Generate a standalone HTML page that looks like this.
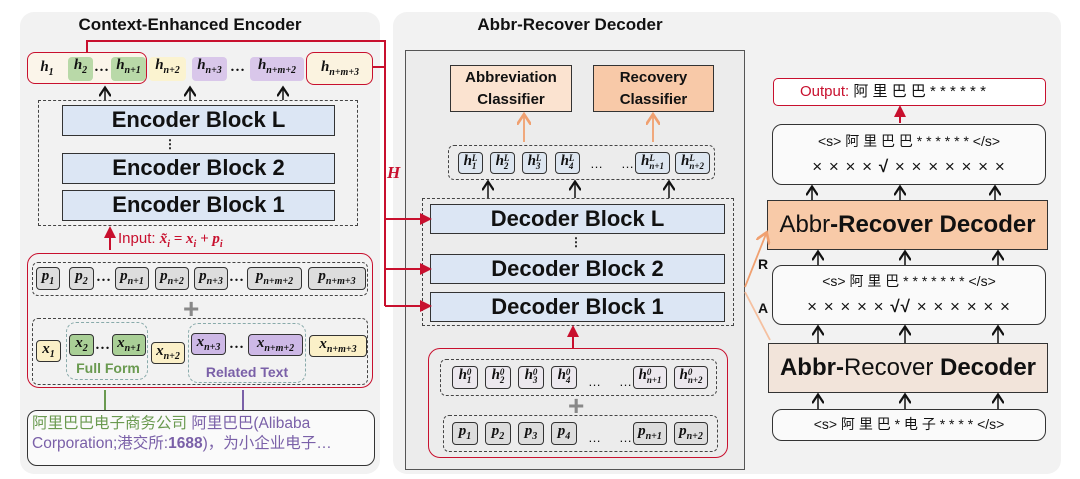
<!DOCTYPE html>
<html><head><meta charset="utf-8"><style>
*{margin:0;padding:0;box-sizing:border-box}
body{width:1080px;height:479px;background:#fff;position:relative;overflow:hidden;font-family:"Liberation Sans","Noto Sans CJK SC",sans-serif;color:#111}
.a{position:absolute}
.panel{background:#f2f2f2;border-radius:14px}
.title{font-weight:bold;font-size:17px;text-align:center}
.blk{position:absolute;background:#dce6f4;border:1.5px solid #333;font-weight:bold;font-size:22px;text-align:center;line-height:27px}
.dash{position:absolute;border:1.5px dashed #444;border-radius:6px}
.tok{position:absolute;font-family:"Liberation Serif",serif;font-style:italic;font-weight:bold;font-size:15px;text-align:center;border-radius:4px;white-space:nowrap}
.tb{border:1.3px solid #333;background:#ddd}
.tb2{border:1.3px solid #333;background:#dde6f0}
.tok sub{font-size:10px}
.ss{display:inline-block;line-height:8px;vertical-align:middle;font-size:9px;text-align:left}
.rbox{position:absolute;border:1.5px solid #c8102e;border-radius:8px}
.wbox{position:absolute;border:1.5px solid #333;border-radius:10px;background:#fafafa;text-align:center;font-size:14px}
</style></head><body>
<div class="a panel" style="left:20px;top:12px;width:360px;height:462px"></div>
<div class="a panel" style="left:393px;top:12px;width:668px;height:462px"></div>
<div class="a title" style="left:20px;top:15px;width:340px">Context-Enhanced Encoder</div>
<div class="a title" style="left:405px;top:15px;width:330px">Abbr-Recover Decoder</div>
<div class="a" style="left:405px;top:50px;width:340px;height:420px;border:1.5px solid #555;background:#ececec"></div>

<div class="rbox" style="left:27px;top:52px;width:120px;height:32px;background:#fbf5ea"></div>
<div class="rbox" style="left:306px;top:52px;width:67px;height:33px;background:#fbf3e0"></div>
<div class="tok" style="left:36px;top:59px;width:22px">h<sub>1</sub></div>
<div class="tok" style="left:68px;top:57px;width:25px;height:24px;background:#b9d9a8">h<sub>2</sub></div>
<div class="tok" style="left:93px;top:59px;width:18px">…</div>
<div class="tok" style="left:111px;top:57px;width:35px;height:24px;background:#b9d9a8">h<sub>n+1</sub></div>
<div class="tok" style="left:149px;top:57px;width:37px;height:24px;background:#fbf3d0">h<sub>n+2</sub></div>
<div class="tok" style="left:192px;top:57px;width:35px;height:24px;background:#d9c7ea">h<sub>n+3</sub></div>
<div class="tok" style="left:228px;top:59px;width:20px">…</div>
<div class="tok" style="left:250px;top:57px;width:54px;height:24px;background:#d9c7ea">h<sub>n+m+2</sub></div>
<div class="tok" style="left:309px;top:59px;width:62px">h<sub>n+m+3</sub></div>

<div class="dash" style="left:38px;top:100px;width:320px;height:126px;border-radius:0"></div>
<div class="blk" style="left:62px;top:105px;width:273px;height:31px">Encoder Block L</div>
<div class="blk" style="left:62px;top:153px;width:273px;height:31px">Encoder Block 2</div>
<div class="blk" style="left:62px;top:190px;width:273px;height:31px">Encoder Block 1</div>
<div class="a" style="left:164px;top:137px;font-size:12px;font-weight:bold">⋮</div>
<div class="a" style="left:118px;top:230px;color:#c8102e;font-size:15px">Input: <i style="font-family:'Liberation Serif',serif;font-weight:bold">x̃<sub style="font-size:10px">i</sub> = x<sub style="font-size:10px">i</sub> + p<sub style="font-size:10px">i</sub></i></div>

<div class="rbox" style="left:27px;top:253px;width:346px;height:135px;border-radius:12px"></div>
<div class="dash" style="left:32px;top:262px;width:336px;height:34px"></div>
<div class="tok tb" style="left:36px;top:267px;width:24px;height:23px">p<sub>1</sub></div>
<div class="tok tb" style="left:69px;top:267px;width:25px;height:23px">p<sub>2</sub></div>
<div class="tok" style="left:94px;top:269px;width:20px">…</div>
<div class="tok tb" style="left:115px;top:267px;width:34px;height:23px">p<sub>n+1</sub></div>
<div class="tok tb" style="left:155px;top:267px;width:34px;height:23px">p<sub>n+2</sub></div>
<div class="tok tb" style="left:194px;top:267px;width:34px;height:23px">p<sub>n+3</sub></div>
<div class="tok" style="left:228px;top:269px;width:18px">…</div>
<div class="tok tb" style="left:247px;top:267px;width:55px;height:23px">p<sub>n+m+2</sub></div>
<div class="tok tb" style="left:308px;top:267px;width:58px;height:23px">p<sub>n+m+3</sub></div>
<div class="a" style="left:183px;top:293px;font-size:28px;font-weight:bold;color:#888">+</div>
<div class="dash" style="left:32px;top:318px;width:336px;height:67px"></div>
<div class="dash" style="left:66px;top:322px;width:82px;height:58px;border-color:#8aa;border-radius:10px"></div>
<div class="dash" style="left:188px;top:323px;width:118px;height:60px;border-color:#8aa;border-radius:10px"></div>
<div class="tok" style="left:36px;top:340px;width:25px;height:22px;background:#fbf0c8;border:1.3px solid #333">x<sub>1</sub></div>
<div class="tok" style="left:69px;top:334px;width:25px;height:22px;background:#a9cf96;border:1.3px solid #333">x<sub>2</sub></div>
<div class="tok" style="left:94px;top:337px;width:18px">…</div>
<div class="tok" style="left:112px;top:334px;width:34px;height:22px;background:#a9cf96;border:1.3px solid #333">x<sub>n+1</sub></div>
<div class="tok" style="left:151px;top:342px;width:34px;height:22px;background:#fbf0c8;border:1.3px solid #333">x<sub>n+2</sub></div>
<div class="tok" style="left:191px;top:333px;width:35px;height:22px;background:#cdb8e6;border:1.3px solid #333">x<sub>n+3</sub></div>
<div class="tok" style="left:228px;top:336px;width:18px">…</div>
<div class="tok" style="left:248px;top:334px;width:55px;height:22px;background:#cdb8e6;border:1.3px solid #333">x<sub>n+m+2</sub></div>
<div class="tok" style="left:309px;top:335px;width:58px;height:22px;background:#fbf0c8;border:1.3px solid #333">x<sub>n+m+3</sub></div>
<div class="a" style="left:70px;top:360px;width:76px;text-align:center;font-weight:bold;font-size:14px;color:#6a9a50">Full Form</div>
<div class="a" style="left:190px;top:364px;width:114px;text-align:center;font-weight:bold;font-size:14px;color:#7a60a8">Related Text</div>

<div class="a" style="left:27px;top:410px;width:348px;height:56px;border:1.5px solid #333;border-radius:10px;background:#fafafa;font-size:15.5px;line-height:20px;padding:3px 4px;color:#7a60a8"><span style="color:#6a9a50">阿里巴巴电子商务公司</span> 阿里巴巴(Alibaba Corporation;港交所:<b>1688</b>)，为小企业电子…</div>

<div class="a" style="left:450px;top:65px;width:122px;height:47px;border:1.5px solid #333;background:#fbe3d0;font-weight:bold;font-size:15px;text-align:center;line-height:22px;padding-top:1px">Abbreviation<br>Classifier</div>
<div class="a" style="left:593px;top:65px;width:121px;height:47px;border:1.5px solid #333;background:#f8c9a8;font-weight:bold;font-size:15px;text-align:center;line-height:22px;padding-top:1px">Recovery<br>Classifier</div>
<div class="dash" style="left:448px;top:145px;width:267px;height:35px"></div>
<div class="tok tb2" style="left:458px;top:152px;width:25px;height:22px">h<span class="ss">L<br>1</span></div>
<div class="tok tb2" style="left:490px;top:152px;width:25px;height:22px">h<span class="ss">L<br>2</span></div>
<div class="tok tb2" style="left:522px;top:152px;width:25px;height:22px">h<span class="ss">L<br>3</span></div>
<div class="tok tb2" style="left:555px;top:152px;width:25px;height:22px">h<span class="ss">L<br>4</span></div>
<div class="a" style="left:590px;top:156px;font-size:13px">…&nbsp;&nbsp;&nbsp;&nbsp;&nbsp;…</div>
<div class="tok tb2" style="left:635px;top:152px;width:35px;height:22px">h<span class="ss">L<br>n+1</span></div>
<div class="tok tb2" style="left:675px;top:152px;width:35px;height:22px">h<span class="ss">L<br>n+2</span></div>
<div class="dash" style="left:422px;top:198px;width:312px;height:128px;border-radius:0"></div>
<div class="blk" style="left:430px;top:204px;width:295px;height:30px">Decoder Block L</div>
<div class="blk" style="left:430px;top:254px;width:295px;height:30px">Decoder Block 2</div>
<div class="blk" style="left:430px;top:292px;width:295px;height:30px">Decoder Block 1</div>
<div class="a" style="left:570px;top:235px;font-size:12px;font-weight:bold">⋮</div>
<div class="rbox" style="left:428px;top:348px;width:300px;height:110px;border-radius:12px"></div>
<div class="dash" style="left:440px;top:359px;width:277px;height:37px"></div>
<div class="tok tb" style="left:452px;top:366px;width:26px;height:23px;background:#ece8ee">h<span class="ss">0<br>1</span></div>
<div class="tok tb" style="left:485px;top:366px;width:26px;height:23px;background:#ece8ee">h<span class="ss">0<br>2</span></div>
<div class="tok tb" style="left:518px;top:366px;width:26px;height:23px;background:#ece8ee">h<span class="ss">0<br>3</span></div>
<div class="tok tb" style="left:551px;top:366px;width:26px;height:23px;background:#ece8ee">h<span class="ss">0<br>4</span></div>
<div class="a" style="left:588px;top:374px;font-size:13px">…&nbsp;&nbsp;&nbsp;&nbsp;&nbsp;…</div>
<div class="tok tb" style="left:633px;top:366px;width:34px;height:23px;background:#ece8ee">h<span class="ss">0<br>n+1</span></div>
<div class="tok tb" style="left:674px;top:366px;width:34px;height:23px;background:#ece8ee">h<span class="ss">0<br>n+2</span></div>
<div class="a" style="left:568px;top:390px;font-size:28px;font-weight:bold;color:#888">+</div>
<div class="dash" style="left:443px;top:415px;width:275px;height:37px"></div>
<div class="tok tb" style="left:452px;top:422px;width:26px;height:23px">p<sub>1</sub></div>
<div class="tok tb" style="left:485px;top:422px;width:26px;height:23px">p<sub>2</sub></div>
<div class="tok tb" style="left:518px;top:422px;width:26px;height:23px">p<sub>3</sub></div>
<div class="tok tb" style="left:551px;top:422px;width:26px;height:23px">p<sub>4</sub></div>
<div class="a" style="left:588px;top:430px;font-size:13px">…&nbsp;&nbsp;&nbsp;&nbsp;&nbsp;…</div>
<div class="tok tb" style="left:633px;top:422px;width:34px;height:23px">p<sub>n+1</sub></div>
<div class="tok tb" style="left:674px;top:422px;width:34px;height:23px">p<sub>n+2</sub></div>

<div class="a" style="left:773px;top:78px;width:273px;height:28px;border:1.5px solid #c8102e;border-radius:5px;background:#fff;font-size:15px;line-height:25px;padding-left:26px"><span style="color:#c8102e">Output:</span> 阿 里 巴 巴 * * * * * *</div>
<div class="wbox" style="left:772px;top:124px;width:274px;height:61px;line-height:25px;padding-top:4px">&lt;s&gt; 阿 里 巴 巴 * * * * * * &lt;/s&gt;<br><span style="font-size:17px;letter-spacing:1px">× × × × <b>√</b> × × × × × × ×</span></div>
<div class="a" style="left:767px;top:200px;width:281px;height:50px;border:1.5px solid #333;background:#f8caa8;font-size:24px;text-align:center;line-height:47px">Abbr<b>-Recover Decoder</b></div>
<div class="wbox" style="left:772px;top:265px;width:274px;height:60px;line-height:25px;padding-top:3px">&lt;s&gt; 阿 里 巴 * * * * * * * &lt;/s&gt;<br><span style="font-size:17px;letter-spacing:1px">× × × × × <b>√√</b> × × × × × ×</span></div>
<div class="a" style="left:768px;top:343px;width:280px;height:50px;border:1.5px solid #333;background:#f2e4da;font-size:24px;text-align:center;line-height:47px"><b>Abbr-</b>Recover <b>Decoder</b></div>
<div class="wbox" style="left:772px;top:409px;width:274px;height:32px;line-height:29px">&lt;s&gt; 阿 里 巴 * 电 子 * * * * &lt;/s&gt;</div>
<div class="a" style="left:758px;top:256px;font-weight:bold;font-size:14px">R</div>
<div class="a" style="left:758px;top:300px;font-weight:bold;font-size:14px">A</div>
<div class="a" style="left:387px;top:163px;color:#c8102e;font-weight:bold;font-style:italic;font-family:'Liberation Serif',serif;font-size:17px">H</div>

<svg class="a" style="left:0;top:0" width="1080" height="479">
<defs>
<marker id="k" markerWidth="8" markerHeight="8" refX="5" refY="4" orient="auto"><path d="M0,0L6,4L0,8" fill="none" stroke="#111" stroke-width="1.5"/></marker>
<marker id="r" markerWidth="6" markerHeight="6" refX="4" refY="3" orient="auto"><path d="M0,0L6,3L0,6z" fill="#c8102e"/></marker>
<marker id="o" markerWidth="8" markerHeight="8" refX="5" refY="4" orient="auto"><path d="M0,0L6,4L0,8" fill="none" stroke="#f0a070" stroke-width="1.5"/></marker>
</defs>
<g stroke="#111" stroke-width="1.5" marker-end="url(#k)">
<line x1="105" y1="100" x2="105" y2="89"/><line x1="190" y1="100" x2="190" y2="89"/><line x1="283" y1="100" x2="283" y2="89"/>
<line x1="488" y1="198" x2="488" y2="183"/><line x1="575" y1="198" x2="575" y2="183"/><line x1="669" y1="198" x2="669" y2="183"/>
<line x1="812" y1="200" x2="812" y2="188"/><line x1="900" y1="200" x2="900" y2="188"/><line x1="995" y1="200" x2="995" y2="188"/>
<line x1="818" y1="265" x2="818" y2="253"/><line x1="905" y1="265" x2="905" y2="253"/><line x1="998" y1="265" x2="998" y2="253"/>
<line x1="818" y1="343" x2="818" y2="328"/><line x1="905" y1="343" x2="905" y2="328"/><line x1="998" y1="343" x2="998" y2="328"/>
<line x1="818" y1="409" x2="818" y2="396"/><line x1="905" y1="409" x2="905" y2="396"/><line x1="998" y1="409" x2="998" y2="396"/>
</g>
<line x1="105" y1="410" x2="105" y2="390" stroke="#6a9a50" stroke-width="2"/>
<line x1="243" y1="410" x2="243" y2="390" stroke="#7a60a8" stroke-width="2"/>
<g stroke="#f0a070" stroke-width="1.8" marker-end="url(#o)">
<line x1="524" y1="142" x2="524" y2="116"/><line x1="653" y1="142" x2="653" y2="116"/>
<line x1="745" y1="287" x2="766" y2="234"/>
</g>
<line x1="745" y1="292" x2="770" y2="340" stroke="#f5c0a0" stroke-width="1.8"/>
<g stroke="#c8102e" stroke-width="2" fill="none">
<polyline points="87,52 87,41 385,41 385,306"/>
<line x1="373" y1="67" x2="385" y2="67"/>
<line x1="385" y1="219" x2="428" y2="219" marker-end="url(#r)"/>
<line x1="385" y1="269" x2="428" y2="269" marker-end="url(#r)"/>
<line x1="385" y1="306" x2="428" y2="306" marker-end="url(#r)"/>
<line x1="110" y1="250" x2="110" y2="230" marker-end="url(#r)"/>
<line x1="573" y1="348" x2="573" y2="329" marker-end="url(#r)"/>
<line x1="900" y1="123" x2="900" y2="109" marker-end="url(#r)"/>
</g>
</svg>
</body></html>
